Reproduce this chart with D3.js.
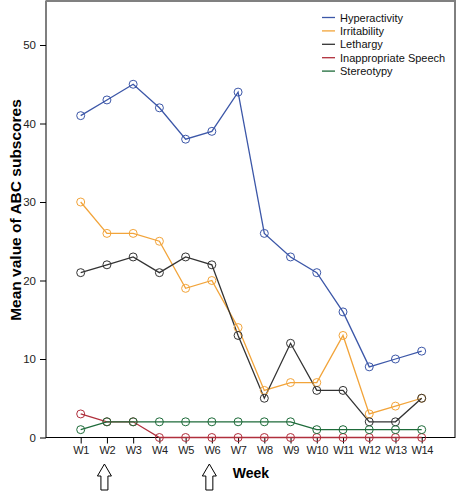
<!DOCTYPE html>
<html><head><meta charset="utf-8">
<script src="https://cdn.jsdelivr.net/npm/d3@7/dist/d3.min.js"></script>
<style>body{margin:0;background:#fff}svg{display:block;font-family:Arial,"Liberation Sans",sans-serif}</style>
</head><body><svg id="c" width="458" height="491"></svg>
<script>
const weeks = ["W1","W2","W3","W4","W5","W6","W7","W8","W9","W10","W11","W12","W13","W14"];
const hyperactivity = [41,43,45,42,38,39,44,26,23,21,16,9,10,11];
const irritability = [30,26,26,25,19,20,14,6,7,7,13,3,4,5];
const lethargy = [21,22,23,21,23,22,13,5,12,6,6,2,2,5];
const speech = [3,2,2,0,0,0,0,0,0,0,0,0,0,0];
const stereotypy = [1,2,2,2,2,2,2,2,2,1,1,1,1,1];
const seriesNames = ["Hyperactivity","Irritability","Lethargy","Inappropriate Speech","Stereotypy"];
const colors = ["#3c57a8","#f2a43a","#333333","#b02f3c","#1e6b3a"];
const yTicks = [0,10,20,30,40,50];
const arrowWeeks = ["W2","W6"];

const series = [hyperactivity, irritability, lethargy, speech, stereotypy];
const svg = d3.select("#c");
const L = 46, R = 455, T = 1, B = 437.5;
const x = d3.scalePoint().domain(weeks).range([80.7, 421.7]);
const y = d3.scaleLinear().domain([0,50]).range([B, 45]);

// frame
svg.append("rect").attr("x",L).attr("y",T).attr("width",R-L).attr("height",B-T)
  .attr("fill","none").attr("stroke","#000").attr("stroke-width",1);
svg.append("line").attr("x1",L).attr("x2",R+1).attr("y1",1).attr("y2",1).attr("stroke","#808080").attr("stroke-width",2);

// y axis
const ya = svg.append("g").attr("transform",`translate(${L},0)`)
  .call(d3.axisLeft(y).tickValues(yTicks).tickSize(6).tickPadding(4));
ya.select(".domain").remove();
ya.selectAll("text").attr("font-size",11.5).attr("fill","#222").attr("font-family","Arial");
// x axis
const xa = svg.append("g").attr("transform",`translate(0,${B})`)
  .call(d3.axisBottom(x).tickSize(6).tickPadding(3));
xa.select(".domain").remove();
xa.selectAll("text").attr("font-size",11).attr("letter-spacing",-0.4).attr("fill","#222").attr("font-family","Arial");

// titles
svg.append("text").attr("transform","translate(15,210) rotate(-90)").attr("text-anchor","middle")
  .attr("dominant-baseline","central").attr("font-weight","bold").attr("font-size",15.5).text("Mean value of ABC subscores");
svg.append("text").attr("x",251).attr("y",478).attr("text-anchor","middle")
  .attr("font-weight","bold").attr("font-size",14).text("Week");

// lines
const line = d3.line().x((d,i)=>x(weeks[i])).y(d=>y(d));
series.forEach((s,k)=>{
  svg.append("path").attr("d",line(s)).attr("fill","none").attr("stroke",colors[k]).attr("stroke-width",1.3);
});
series.forEach((s,k)=>{
  svg.selectAll(null).data(s).enter().append("circle")
    .attr("cx",(d,i)=>x(weeks[i])).attr("cy",d=>y(d)).attr("r",4)
    .attr("fill","none").attr("stroke",colors[k]).attr("stroke-width",1);
});

// legend
const lg = svg.append("g");
seriesNames.forEach((n,i)=>{
  const yy = 17.5 + i*13.4;
  lg.append("line").attr("x1",322).attr("x2",335).attr("y1",yy).attr("y2",yy).attr("stroke",colors[i]).attr("stroke-width",1.3);
  lg.append("text").attr("x",340).attr("y",yy).attr("dominant-baseline","central").attr("font-size",11).attr("fill","#111").text(n);
});

// arrows
arrowWeeks.forEach(w=>{
  const cx = x(w) - 2.5, top = 464, bot = 490, hw = 7, sw = 3.5, hb = 476;
  const pts = [[cx,top],[cx+hw,hb],[cx+sw,hb],[cx+sw,bot],[cx-sw,bot],[cx-sw,hb],[cx-hw,hb]];
  svg.append("path").attr("d","M"+pts.map(p=>p.join(",")).join("L")+"Z")
    .attr("fill","#fff").attr("stroke","#000").attr("stroke-width",1);
});
</script></body></html>
